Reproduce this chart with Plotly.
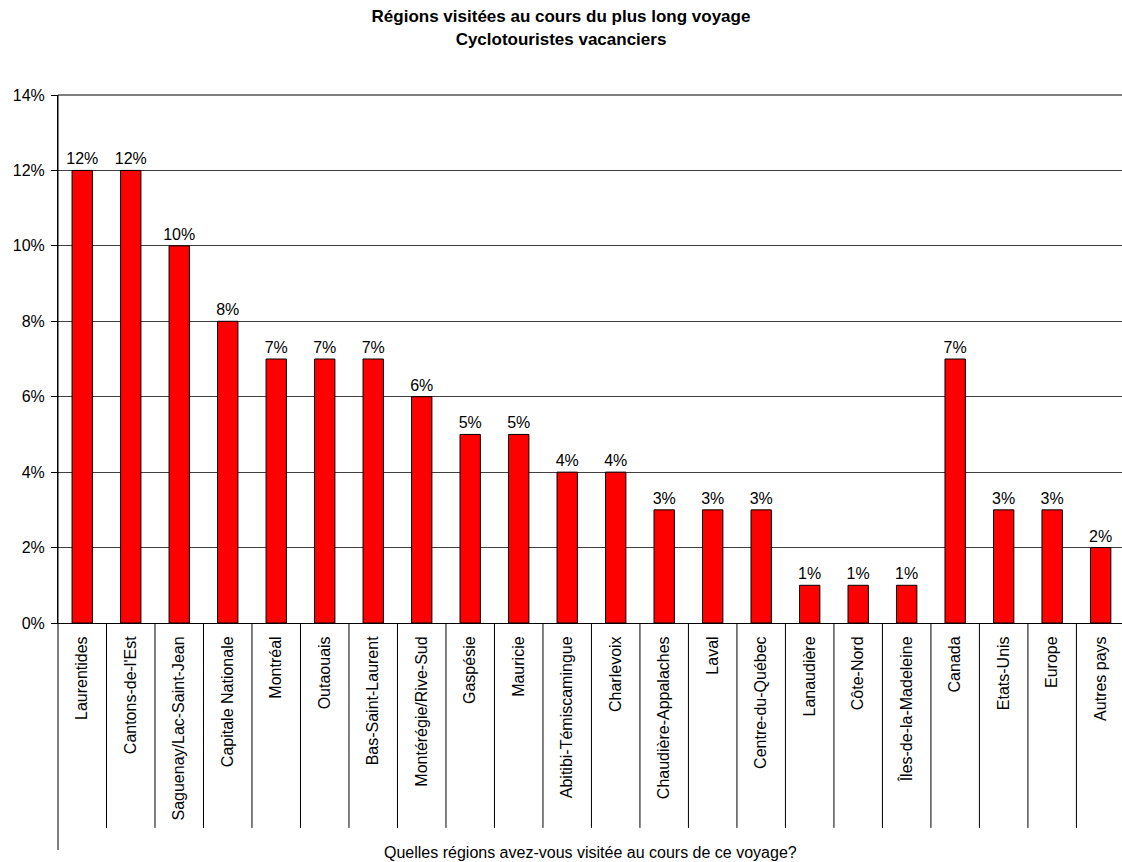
import plotly.graph_objects as go

categories = ["Laurentides", "Cantons-de-l'Est", "Saguenay/Lac-Saint-Jean", "Capitale Nationale",
              "Montréal", "Outaouais", "Bas-Saint-Laurent", "Montérégie/Rive-Sud", "Gaspésie",
              "Mauricie", "Abitibi-Témiscamingue", "Charlevoix", "Chaudière-Appalaches", "Laval",
              "Centre-du-Québec", "Lanaudière", "Côte-Nord", "Îles-de-la-Madeleine", "Canada",
              "Etats-Unis", "Europe", "Autres pays"]
values = [12, 12, 10, 8, 7, 7, 7, 6, 5, 5, 4, 4, 3, 3, 3, 1, 1, 1, 7, 3, 3, 2]
y_ticks = [0, 2, 4, 6, 8, 10, 12, 14]

FONT = "Liberation Sans, Arial, sans-serif"
n = len(categories)

fig = go.Figure()
fig.add_trace(go.Bar(
    x=list(range(n)), y=values,
    marker=dict(color="#FF0000", line=dict(color="black", width=1)),
    text=[f"{v}%" for v in values], textposition="outside", constraintext="none",
    textfont=dict(family=FONT, size=16, color="black"),
    cliponaxis=False, width=0.42,
))

shapes = []
# separators between category labels
for i in range(n):
    shapes.append(dict(type="line", xref="x", yref="paper", x0=i + 0.5, x1=i + 0.5,
                       y0=0, y1=-0.388, line=dict(color="black", width=1)))
# extended y axis line
shapes.append(dict(type="line", xref="paper", yref="paper", x0=0, x1=0, y0=1, y1=-0.43,
                   line=dict(color="black", width=1)))
# top border line
shapes.append(dict(type="line", xref="paper", yref="paper", x0=0, x1=1, y0=1, y1=1,
                   line=dict(color="black", width=1)))

fig.update_layout(
    width=1122, height=862,
    margin=dict(l=58, r=0, t=95, b=239),
    plot_bgcolor="white", paper_bgcolor="white",
    title=dict(text="<b>Régions visitées au cours du plus long voyage<br>Cyclotouristes vacanciers</b>",
               x=0.5, xanchor="center", y=0.974, yanchor="middle",
               font=dict(family=FONT, size=17, color="black")),
    showlegend=False,
    shapes=shapes,
    xaxis=dict(
        tickmode="array", tickvals=list(range(n)), ticktext=categories,
        tickangle=-90, range=[-0.5, n - 0.56], showgrid=False,
        showline=True, linecolor="black", linewidth=1, ticks="",
        tickfont=dict(family=FONT, size=16, color="black"), ticklabelstandoff=6,
    ),
    yaxis=dict(
        range=[0, 14], tickmode="array", tickvals=y_ticks,
        ticktext=[f"{t}%" for t in y_ticks],
        showgrid=True, gridcolor="#404040", gridwidth=1,
        showline=True, linecolor="black", linewidth=1,
        ticks="outside", ticklen=6, tickcolor="black", ticklabelstandoff=3,
        tickfont=dict(family=FONT, size=16, color="black"), zeroline=False,
    ),
    annotations=[dict(text="Quelles régions avez-vous visitée au cours de ce voyage?",
                      xref="paper", yref="paper", x=0.5, y=-0.435, xanchor="center", yanchor="middle",
                      showarrow=False, font=dict(family=FONT, size=16, color="black"))],
)

fig.write_html("out.html", config={"displayModeBar": False},
               post_script="document.body.style.margin='0';")
